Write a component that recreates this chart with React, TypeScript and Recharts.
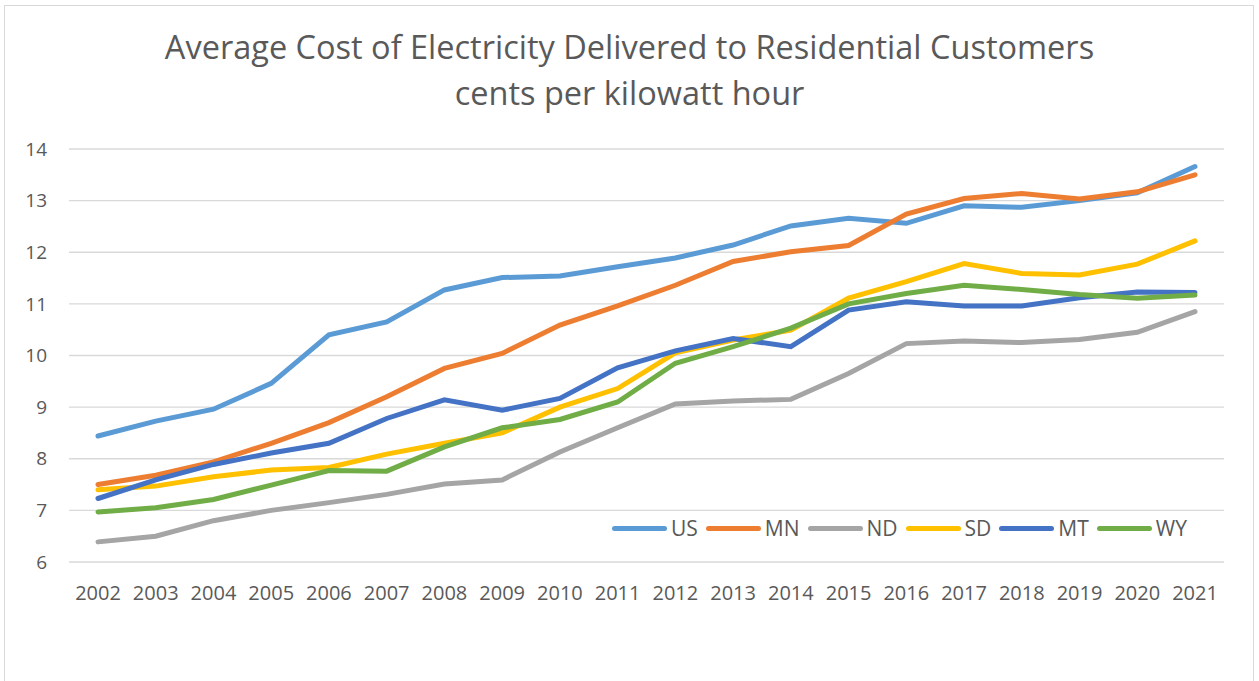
import React from 'react';
import { LineChart, Line, CartesianGrid, XAxis, YAxis } from 'recharts';

const years = [
  '2002', '2003', '2004', '2005', '2006', '2007', '2008', '2009', '2010', '2011',
  '2012', '2013', '2014', '2015', '2016', '2017', '2018', '2019', '2020', '2021',
];

const us = [8.44, 8.73, 8.96, 9.46, 10.4, 10.65, 11.27, 11.51, 11.54, 11.72, 11.89, 12.14, 12.51, 12.66, 12.56, 12.9, 12.87, 13.0, 13.15, 13.66];
const mn = [7.5, 7.68, 7.94, 8.3, 8.7, 9.2, 9.75, 10.04, 10.59, 10.96, 11.36, 11.82, 12.01, 12.13, 12.74, 13.04, 13.14, 13.03, 13.17, 13.5];
const nd = [6.39, 6.5, 6.8, 7.0, 7.15, 7.31, 7.51, 7.59, 8.13, 8.6, 9.06, 9.12, 9.15, 9.65, 10.23, 10.28, 10.25, 10.31, 10.45, 10.85];
const sd = [7.4, 7.47, 7.65, 7.78, 7.83, 8.09, 8.3, 8.5, 9.0, 9.36, 10.05, 10.3, 10.49, 11.11, 11.43, 11.78, 11.59, 11.56, 11.77, 12.22];
const mt = [7.23, 7.59, 7.89, 8.11, 8.3, 8.78, 9.14, 8.94, 9.17, 9.76, 10.09, 10.33, 10.17, 10.88, 11.04, 10.96, 10.96, 11.12, 11.23, 11.22];
const wy = [6.97, 7.05, 7.21, 7.49, 7.77, 7.76, 8.23, 8.6, 8.76, 9.1, 9.85, 10.17, 10.53, 11.0, 11.2, 11.36, 11.28, 11.18, 11.11, 11.17];

const yTicks = [6, 7, 8, 9, 10, 11, 12, 13, 14];

const series = [
  { key: 'US', values: us, color: '#5B9BD5' },
  { key: 'MN', values: mn, color: '#ED7D31' },
  { key: 'ND', values: nd, color: '#A5A5A5' },
  { key: 'SD', values: sd, color: '#FFC000' },
  { key: 'MT', values: mt, color: '#4472C4' },
  { key: 'WY', values: wy, color: '#70AD47' },
];

const data = years.map((year, i) => {
  const row: any = { year };
  series.forEach((s) => {
    row[s.key] = s.values[i];
  });
  return row;
});

const font = '"Open Sans", sans-serif';
const textColor = '#595959';

export default function App() {
  return (
    <div style={{ position: 'absolute', left: 0, top: 0, width: 1259, height: 681, background: '#fff' }}>
      <div
        style={{
          position: 'absolute',
          left: 4,
          top: 5,
          width: 1248,
          height: 700,
          border: '1px solid #d9d9d9',
        }}
      />
      <div
        style={{
          position: 'absolute',
          left: 0,
          top: 24,
          width: 1259,
          textAlign: 'center',
          fontFamily: font,
          fontSize: 32.5,
          lineHeight: '46px',
          color: textColor,
        }}
      >
        <div>Average Cost of Electricity Delivered to Residential Customers</div>
        <div>cents per kilowatt hour</div>
      </div>
      <div style={{ position: 'absolute', left: 0, top: 0 }}>
        <LineChart width={1259} height={681} data={data} margin={{ top: 149, right: 35, bottom: 89, left: 0 }}>
          <CartesianGrid vertical={false} stroke="#d9d9d9" strokeWidth={1.3} />
          <XAxis
            dataKey="year"
            axisLine={false}
            tickLine={false}
            tickSize={0}
            tickMargin={24}
            height={30}
            interval={0}
            padding={{ left: 29, right: 29 }}
            tick={{ fontSize: 20, fill: textColor, fontFamily: font }}
          />
          <YAxis
            domain={[6, 14]}
            ticks={yTicks}
            axisLine={false}
            tickLine={false}
            tickSize={0}
            tickMargin={22}
            width={69}
            tick={{ fontSize: 19, fill: textColor, fontFamily: font }}
          />
          {series.map((s) => (
            <Line
              key={s.key}
              type="linear"
              dataKey={s.key}
              stroke={s.color}
              strokeWidth={5}
              strokeLinecap="round"
              dot={false}
              activeDot={false}
              isAnimationActive={false}
            />
          ))}
        </LineChart>
      </div>
      <div
        style={{
          position: 'absolute',
          left: 612,
          top: 514,
          display: 'flex',
          alignItems: 'center',
          fontFamily: font,
          fontSize: 21,
          color: textColor,
        }}
      >
        {series.map((s) => (
          <div key={s.key} style={{ display: 'flex', alignItems: 'center', marginRight: 8 }}>
            <div style={{ width: 55, height: 5, borderRadius: 3, background: s.color, marginRight: 4 }} />
            <span>{s.key}</span>
          </div>
        ))}
      </div>
    </div>
  );
}
